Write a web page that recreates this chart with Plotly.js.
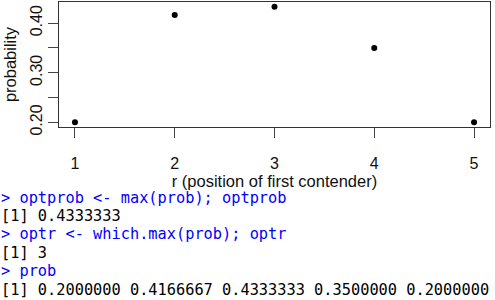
<!DOCTYPE html>
<html><head><meta charset="utf-8">
<script src="https://cdn.plot.ly/plotly-3.0.1.min.js"></script>
<style>html,body{margin:0;padding:0;background:#fff;}#chart{width:495px;height:300px;}</style>
</head><body><div id="chart"></div>
<script>
const r = [1, 2, 3, 4, 5];
const prob = [0.2, 0.4166667, 0.4333333, 0.35, 0.2];
const yTickVals = [0.20, 0.25, 0.30, 0.35, 0.40];
const yTickText = ["0.20", "", "0.30", "", "0.40"];
const consoleLines = [
  {text: "> optprob <- max(prob); optprob", kind: "input"},
  {text: "[1] 0.4333333", kind: "output"},
  {text: "> optr <- which.max(prob); optr", kind: "input"},
  {text: "[1] 3", kind: "output"},
  {text: "> prob", kind: "input"},
  {text: "[1] 0.2000000 0.4166667 0.4333333 0.3500000 0.2000000", kind: "output"}
];

const W = 495, H = 300;
const M = {l: 59, r: 5, t: 2, b: 173};
const plotH = H - M.t - M.b, plotW = W - M.l - M.r;
const px2paperX = x => (x - M.l) / plotW;
const px2paperY = y => (H - M.b - y) / plotH;

const xr = [Math.min(...r), Math.max(...r)];
const yr = [Math.min(...prob), Math.max(...prob)];
const pad = (a) => [a[0] - 0.04 * (a[1] - a[0]), a[1] + 0.04 * (a[1] - a[0])];

const annotations = consoleLines.map((ln, i) => ({
  text: ln.text.replace(/ /g, "&nbsp;"),
  xref: "paper", yref: "paper",
  x: px2paperX(0), y: px2paperY(197.5 + i * 18.5),
  xanchor: "left", yanchor: "middle",
  showarrow: false, borderpad: 0,
  font: {family: "DejaVu Sans Mono, monospace", size: 15.3, color: ln.kind === "input" ? "#0000ff" : "#000000"}
}));

const font = {family: "Liberation Sans, Arial, sans-serif", size: 16, color: "#111"};

Plotly.newPlot("chart", [{
  x: r, y: prob, type: "scatter", mode: "markers",
  marker: {color: "#000", size: 6},
  hoverinfo: "none"
}], {
  width: W, height: H, margin: M,
  paper_bgcolor: "#fff", plot_bgcolor: "#fff",
  showlegend: false,
  font: font,
  xaxis: {
    range: pad(xr), tickvals: r, ticktext: r.map(String),
    ticks: "outside", ticklen: 10, tickcolor: "#444", tickwidth: 1,
    showline: true, mirror: true, linecolor: "#333", linewidth: 1,
    showgrid: false, zeroline: false,
    ticklabelstandoff: 12,
    title: {text: "r (position of first contender)", font: {size: 16.5}, standoff: 4}
  },
  yaxis: {
    range: pad(yr), tickvals: yTickVals, ticktext: yTickText,
    ticks: "outside", ticklen: 10, tickcolor: "#444", tickwidth: 1,
    tickangle: -90,
    showline: true, mirror: true, linecolor: "#333", linewidth: 1,
    showgrid: false, zeroline: false,
    title: {text: "probability", font: {size: 16.5}, standoff: 6}
  },
  annotations: annotations
}, {staticPlot: true, displayModeBar: false});
</script></body></html>
